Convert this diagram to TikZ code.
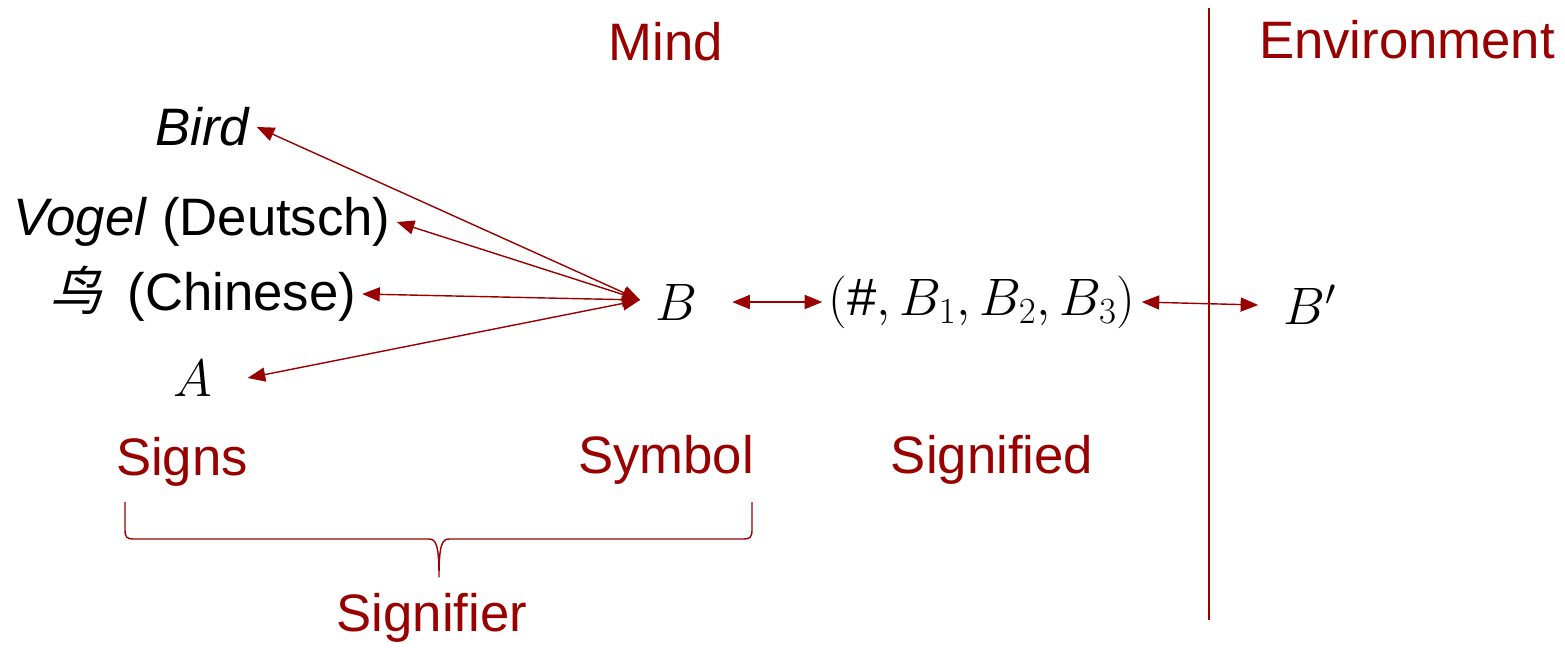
\RequirePackage{fix-cm}
\documentclass[tikz,border=0pt]{standalone}
\usepackage{fontspec}
\setmainfont{Liberation Sans}
\newfontfamily\cjkfont{Noto Sans CJK SC}
\usetikzlibrary{arrows.meta}
\definecolor{darkred}{RGB}{153,0,0}
\newcommand{\slantchar}[1]{\tikz[baseline=(sc.base)]\node[inner sep=0pt, xslant=0.25, transform shape] (sc) {#1};}

\begin{document}
\begin{tikzpicture}[x=0.02cm, y=-0.02cm, font=\fontsize{30}{36}\selectfont, line join=round, >={Triangle[length=10pt,width=8pt]}]
	\tikzset{heading/.style={text=darkred}, arrowlink/.style={<->, draw=darkred, line width=0.8pt}}
	\useasboundingbox (0,0) rectangle (1565,647);
	% headings
	\node[heading] (mind) at (666,42) {Mind};
	\node[heading] (env) at (1407,40) {Environment};
	\node[heading] (signs) at (182,462) {Signs};
	\node[heading] (symbol) at (666,460) {Symbol};
	\node[heading] (signified) at (992,460) {Signified};
	\node[heading] (signifier) at (432,618) {Signifier};
	% signs
	\node (bird) at (203,127) {\textit{Bird}};
	\node (vogel) at (202,222) {\textit{Vogel} (Deutsch)};
	\node (niao) at (202,294) {\slantchar{\cjkfont 鸟} (Chinese)};
	\node[inner xsep=0.7cm] (a) at (193,378) {$A$};
	% symbol and meaning
	\node[inner xsep=0.7cm] (b) at (676,302) {$B$};
	\node (tuple) at (982,302) {$(\#,B_1,B_2,B_3)$};
	\node[inner xsep=0.5cm] (bp) at (1310,305) {$B'$};
	\coordinate (hub) at ([xshift=-0.72cm,yshift=0.04cm]b.center);
	\draw[arrowlink] (hub) -- (bird.east);
	\draw[arrowlink] (hub) -- (vogel.east);
	\draw[arrowlink] (hub) -- (niao.east);
	\draw[arrowlink] (hub) -- (a.east);
	\draw[arrowlink] (b.east) -- (tuple.west);
	\draw[arrowlink] (tuple.east) -- (bp.west);
	% mind / environment border
	\draw[darkred, line width=0.8pt] (1209,8) -- (1209,620);
	% brace under the signifier
	\draw[darkred, line width=0.8pt] (125,502) -- (125,530) .. controls (125,537) and (127,539) .. (133,539) -- (429,539)
		.. controls (436,539) and (439,545) .. (439,577)
		.. controls (439,545) and (442,539) .. (449,539) -- (744,539) .. controls (750,539) and (752,537) .. (752,530) -- (752,502);
\end{tikzpicture}
\end{document}
